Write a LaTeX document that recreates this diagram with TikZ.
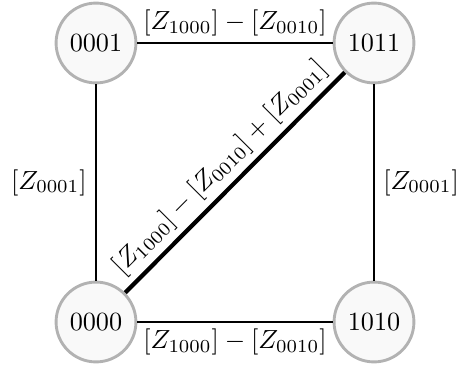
\documentclass[tikz,border=0pt]{standalone}
\usepackage{tikz}
\usetikzlibrary{positioning}
\tikzstyle{state} = [circle, draw=gray!60, fill=gray!5, line width=1.1pt,
                     minimum size=1.07cm, inner sep=0pt, font=\normalsize]
\tikzstyle{link}  = [thin, black]
\tikzstyle{cut}   = [line width=1.6pt, black]

\begin{document}
\begin{tikzpicture}[x=0.0134cm, y=-0.0134cm]
  \useasboundingbox (0,0) rectangle (459,365);

  % States
  \node[state] (s0001) at (96,43) {0001};
  \node[state] (s1011) at (374,43) {1011};
  \node[state] (s0000) at (96,322) {0000};
  \node[state] (s1010) at (374,322) {1010};

  % Edges
  \draw[link] (s0001) -- node[above=-1pt] {$[Z_{1000}]-[Z_{0010}]$} (s1011);
  \draw[link] (s0000) -- node[below=-1pt] {$[Z_{1000}]-[Z_{0010}]$} (s1010);
  \draw[link] (s0001) -- node[left] {$[Z_{0001}]$} (s0000);
  \draw[link] (s1011) -- node[right] {$[Z_{0001}]$} (s1010);

  % Diagonal
  \draw[cut] (s0000) -- node[above=-1pt, sloped] {$[Z_{1000}]-[Z_{0010}]+[Z_{0001}]$} (s1011);
\end{tikzpicture}
\end{document}
